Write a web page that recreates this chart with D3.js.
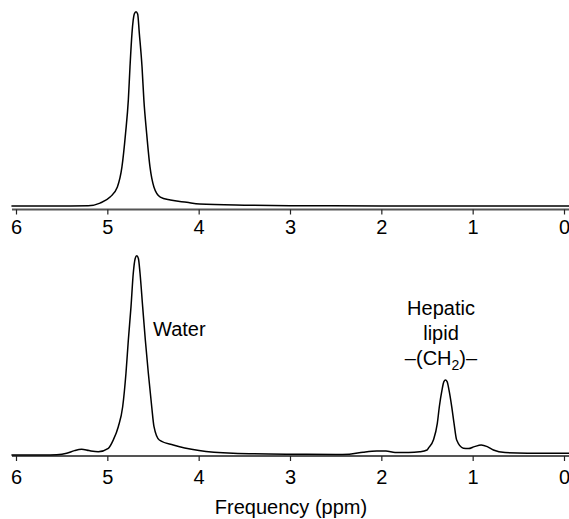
<!DOCTYPE html>
<html>
<head>
<meta charset="utf-8">
<script src="https://cdn.jsdelivr.net/npm/d3@7"></script>
<style>
  html, body { margin: 0; padding: 0; background: #fff; }
  svg { display: block; font-family: "Liberation Sans", Arial, Helvetica, sans-serif; }
</style>
</head>
<body>
<svg id="chart" width="569" height="519"></svg>
<script>
// ---- Data (ppm, relative intensity; largest peak = 100) ----
const tickValues = [6, 5, 4, 3, 2, 1, 0];
const xLabel = "Frequency (ppm)";

// Top spectrum: water peak only
const topPpm = [6.05, 5.5, 5.21, 5.08, 4.97, 4.89, 4.84, 4.80, 4.77, 4.752, 4.73, 4.705, 4.686,
                4.668, 4.65, 4.62, 4.60, 4.57, 4.533, 4.49, 4.42, 4.31, 4.13, 3.99, 3.5, 3.0, 2.0, 1.0, -0.06];
const topInt = [0, 0, 0.1, 1.5, 4.6, 9.8, 20.1, 37.6, 54.6, 71.5, 89, 98.8, 100,
                98.8, 89, 71.5, 54.6, 37.6, 20.1, 9.8, 4.6, 3.1, 1.9, 1.0, 0.4, 0.15, 0.05, 0, 0];

// Bottom spectrum: water + hepatic lipid
const botPpm = [6.05, 5.7, 5.554, 5.445, 5.36, 5.281, 5.20, 5.099, 4.989, 4.935, 4.88, 4.832, 4.796, 4.77, 4.741, 4.716, 4.695, 4.678,
                4.66, 4.642, 4.613, 4.584, 4.551, 4.514, 4.489, 4.431, 4.278, 3.996, 3.624, 3.0, 2.5, 2.35, 2.2, 2.05, 1.95, 1.85, 1.7, 1.58,
                1.5, 1.485, 1.43, 1.387, 1.365, 1.336, 1.315, 1.298, 1.28, 1.259, 1.229, 1.204, 1.175, 1.102, 1.047, 0.98, 0.907, 0.84, 0.773,
                0.645, 0.4, 0.0, -0.06];
const botInt = [0, 0, 0.15, 0.85, 2.2, 2.86, 2.2, 1.66, 3.36, 7.53, 14.2, 24.2, 41.0, 57.7, 74.3, 91.2, 98.6, 100,
                98.6, 91.2, 74.3, 57.7, 41.0, 24.2, 14.2, 7.53, 5.0, 2.2, 0.85, 0.4, 0.3, 0.4, 1.4, 2.0, 2.0, 1.3, 1.2, 1.6,
                2.5, 3.4, 7.5, 15.9, 24.2, 32.6, 36.8, 37.6, 36.8, 32.6, 24.2, 15.9, 7.5, 3.4, 3.2, 4.2, 5.0, 4.2, 2.5,
                1.2, 0.9, 0.85, 0.85];

const waterLabel = "Water";
const lipidLabel = ["Hepatic", "lipid"];

// ---- Layout ----
const svg = d3.select("#chart");
const x = d3.scaleLinear().domain([6, 0]).range([16, 564]);
const xMin = 6.044, xMax = -0.06;
const FS = 20;

const panels = [
  { ppm: topPpm, val: topInt, y0: 206, yTop: 11.7, axisY: 209.5, labelY: 24.5 },
  { ppm: botPpm, val: botInt, y0: 455, yTop: 255.7, axisY: 456, labelY: 28 }
];

panels.forEach(p => {
  const y = d3.scaleLinear().domain([0, 100]).range([p.y0, p.yTop]);
  const pts = p.ppm.map((d, i) => [d, p.val[i]]);
  const line = d3.line()
    .x(d => x(d[0]))
    .y(d => y(d[1]))
    .curve(d3.curveMonotoneX);

  // axis baseline
  svg.append("line")
    .attr("x1", x(xMin)).attr("x2", x(xMax))
    .attr("y1", p.axisY).attr("y2", p.axisY)
    .attr("stroke", "#555").attr("stroke-width", 2);

  const axis = d3.axisBottom(x).tickValues(tickValues).tickFormat(d3.format("d"))
    .tickSize(5).tickPadding(6);
  const g = svg.append("g").attr("transform", `translate(0,${p.axisY})`).call(axis);
  g.select(".domain").remove();
  g.selectAll(".tick line").attr("stroke", "#222").attr("stroke-width", 1.2);
  g.selectAll(".tick text").attr("font-size", FS).attr("fill", "#000")
    .attr("font-family", "'Liberation Sans', Arial, sans-serif")
    .attr("dy", 0).attr("y", p.labelY);

  svg.append("path")
    .datum(pts)
    .attr("d", line)
    .attr("fill", "none")
    .attr("stroke", "#000")
    .attr("stroke-width", 1.5);
});

// Labels
svg.append("text").attr("x", 153).attr("y", 336)
  .attr("font-size", FS).attr("fill", "#000").text(waterLabel);

svg.append("text").attr("x", 441).attr("y", 315)
  .attr("font-size", FS).attr("text-anchor", "middle").text(lipidLabel[0]);
svg.append("text").attr("x", 441).attr("y", 340)
  .attr("font-size", FS).attr("text-anchor", "middle").text(lipidLabel[1]);
const ch = svg.append("text").attr("x", 441).attr("y", 365)
  .attr("font-size", FS).attr("text-anchor", "middle");
ch.append("tspan").text("\u2013(CH");
ch.append("tspan").attr("font-size", 14).attr("dy", 5).text("2");
ch.append("tspan").attr("dy", -5).text(")\u2013");

svg.append("text").attr("x", 291).attr("y", 514)
  .attr("font-size", FS).attr("text-anchor", "middle").attr("fill", "#000").text(xLabel);
</script>
</body>
</html>
